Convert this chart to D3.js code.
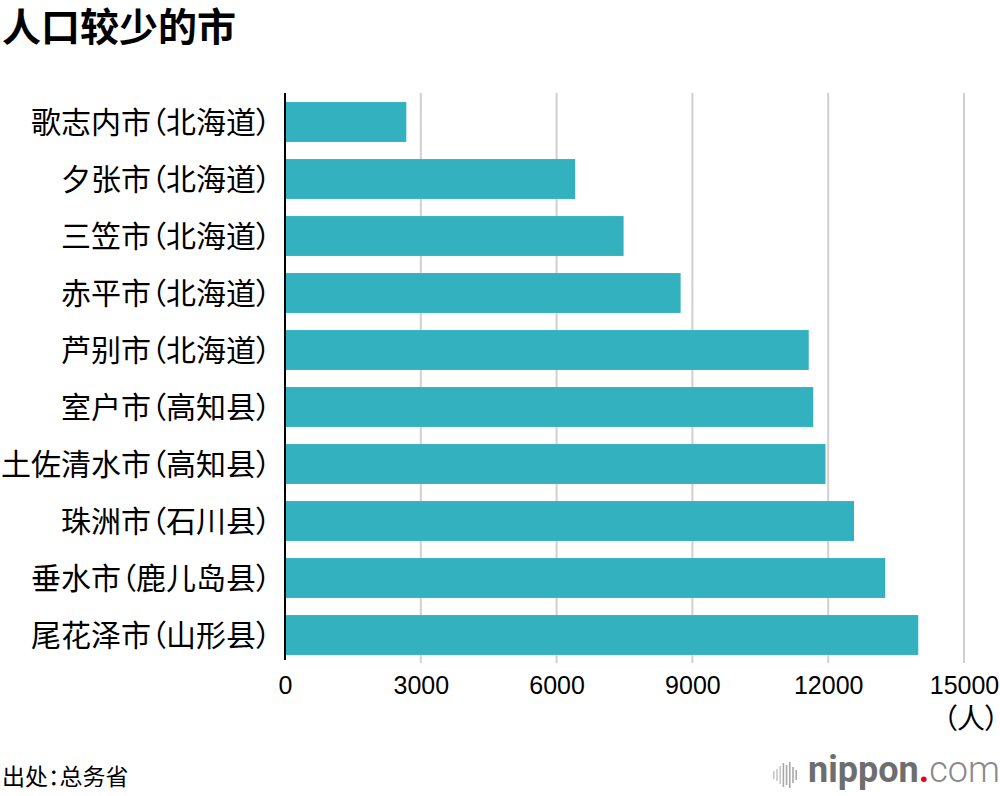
<!DOCTYPE html>
<html>
<head>
<meta charset="utf-8">
<script src="https://cdn.jsdelivr.net/npm/d3@7"></script>
<style>
  html, body { margin: 0; padding: 0; background: #fff; }
  svg { display: block; }
  .palt { font-feature-settings: "palt" 1; }
</style>
</head>
<body>
<svg id="chart" width="1000" height="796"></svg>
<script>
const cities = ["歌志内市（北海道）","夕张市（北海道）","三笠市（北海道）","赤平市（北海道）","芦别市（北海道）","室户市（高知县）","土佐清水市（高知县）","珠洲市（石川县）","垂水市（鹿儿岛县）","尾花泽市（山形县）"];
const population = [2680, 6410, 7480, 8740, 11570, 11670, 11940, 12570, 13260, 13990];
const xTicks = [0, 3000, 6000, 9000, 12000, 15000];
const titleText = "人口较少的市";
const unitText = "（人）";
const sourceText = "出处：总务省";

const svg = d3.select("#chart");
const cjk = "'Noto Sans CJK SC', 'Noto Sans CJK JP', sans-serif";

const x = d3.scaleLinear().domain([0, 15000]).range([285, 964]);
const y = d3.scaleBand().domain(cities).range([93.5, 663.5]).paddingInner(0.3).paddingOuter(0.15);

// title
svg.append("text").attr("x", 2).attr("y", 41)
  .attr("font-family", cjk).attr("font-weight", 700).attr("font-size", 39)
  .attr("fill", "#000").text(titleText);

// gridlines
svg.append("g").selectAll("line").data(xTicks.filter(d => d > 0)).join("line")
  .attr("x1", d => x(d)).attr("x2", d => x(d))
  .attr("y1", 93).attr("y2", 663)
  .attr("stroke", "#d0d0d0").attr("stroke-width", 2);

// bars
svg.append("g").selectAll("rect").data(cities).join("rect")
  .attr("x", x(0))
  .attr("y", d => y(d))
  .attr("width", (d, i) => x(population[i]) - x(0))
  .attr("height", y.bandwidth())
  .attr("fill", "#34b1bf");

// y axis line
svg.append("line").attr("x1", x(0)).attr("x2", x(0)).attr("y1", 93).attr("y2", 660)
  .attr("stroke", "#000").attr("stroke-width", 2);

// category labels
svg.append("g").selectAll("text").data(cities).join("text")
  .attr("class", "palt")
  .attr("x", 271)
  .attr("y", d => y(d) + y.bandwidth() / 2)
  .attr("dy", "0.36em")
  .attr("text-anchor", "end")
  .attr("font-family", cjk).attr("font-size", 30)
  .attr("fill", "#000")
  .text(d => d);

// x tick labels
const xAxis = d3.axisBottom(x).tickValues(xTicks).tickSize(0).tickPadding(0).tickFormat(d3.format("d"));
const gx = svg.append("g").attr("transform", "translate(0,676)").call(xAxis);
gx.select(".domain").remove();
gx.selectAll("text")
  .attr("font-family", "'Liberation Sans', Arial, sans-serif")
  .attr("font-size", 25).attr("fill", "#000").attr("dy", "0.71em");

// unit
svg.append("text").attr("class", "palt").attr("x", 999).attr("y", 729).attr("text-anchor", "end")
  .attr("font-family", cjk).attr("font-size", 28).attr("fill", "#000").text(unitText);

// source
svg.append("text").attr("class", "palt").attr("x", 2).attr("y", 785)
  .attr("font-family", cjk).attr("font-size", 23).attr("fill", "#000").text(sourceText);

// logo
const logo = svg.append("g");
const waveH = [8, 12, 18, 24, 20, 26, 16, 10];
logo.selectAll("rect").data(waveH).join("rect")
  .attr("x", (d, i) => 773 + i * 3.2)
  .attr("y", d => 775 - d / 2)
  .attr("width", 1.6).attr("height", d => d)
  .attr("fill", (d, i) => i < 3 ? "#c8c8c8" : "#a8a8a8");
const lt = logo.append("text").attr("x", 808).attr("y", 782)
  .attr("font-family", "Roboto, sans-serif").attr("font-size", 36);
lt.append("tspan").attr("font-weight", 700).attr("fill", "#6e6e6e").text("nippon");
lt.append("tspan").attr("font-weight", 700).attr("fill", "#e60012").text(".");
lt.append("tspan").attr("font-weight", 300).attr("fill", "#8a8a8a").text("com");
</script>
</body>
</html>
